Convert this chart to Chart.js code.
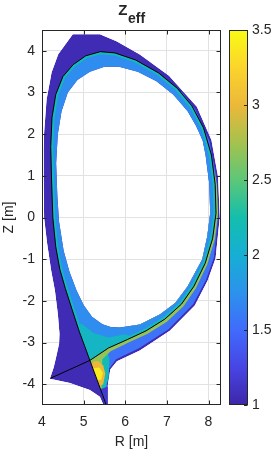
<!DOCTYPE html>
<html>
<head>
<meta charset="utf-8">
<script src="https://cdn.jsdelivr.net/npm/chart.js@4"></script>
<style>
html, body { margin: 0; padding: 0; background: #fff; }
</style>
</head>
<body>
<canvas id="Zeff" width="278" height="453"></canvas>
<script>
// tick labels
const xTicks = [4, 5, 6, 7, 8];
const yTicks = [-4, -3, -2, -1, 0, 1, 2, 3, 4];
const cbTicks = [1, 1.5, 2, 2.5, 3, 3.5];

// separatrix: inner leg end -> X point -> LFS -> top -> HFS -> X point -> outer leg end
const sepR = [4.20, 5.15, 5.60, 6.05, 6.50, 6.95, 7.35, 7.65, 7.92, 8.10, 8.18, 8.16, 8.07, 7.88, 7.60, 7.25, 6.80, 6.25, 5.75, 5.40, 5.05, 4.75, 4.50, 4.33, 4.24, 4.21, 4.23, 4.26, 4.33, 4.43, 4.56, 4.72, 4.90, 5.03, 5.15, 5.35, 5.58];
const sepZ = [-3.86, -3.43, -3.13, -2.93, -2.72, -2.44, -2.08, -1.65, -1.10, -0.50, 0.10, 0.80, 1.50, 2.15, 2.68, 3.10, 3.47, 3.78, 3.95, 3.98, 3.88, 3.67, 3.38, 2.95, 2.40, 1.70, 0.90, 0.00, -0.70, -1.25, -1.70, -2.20, -2.75, -3.10, -3.43, -3.97, -4.60];

// inner edge of the grid (core boundary, empty inside)
const holeR = [5.87, 6.35, 6.83, 7.20, 7.50, 7.85, 7.97, 8.04, 8.02, 7.93, 7.86, 7.70, 7.50, 7.15, 6.75, 6.30, 5.85, 5.50, 5.15, 4.85, 4.62, 4.47, 4.38, 4.34, 4.37, 4.41, 4.52, 4.66, 4.83, 5.00, 5.20, 5.45, 5.65];
const holeZ = [-2.64, -2.57, -2.33, -2.05, -1.65, -1.00, -0.45, 0.10, 0.80, 1.50, 1.85, 2.20, 2.55, 2.95, 3.27, 3.50, 3.62, 3.62, 3.50, 3.30, 3.00, 2.55, 2.00, 1.30, 0.50, -0.10, -0.80, -1.30, -1.75, -2.10, -2.38, -2.56, -2.63];

// outer edge of the grid (wall side, incl. divertor legs and private flux region)
const wallR = [4.74, 5.39, 5.79, 6.35, 7.05, 7.72, 8.07, 8.23, 8.27, 8.17, 7.98, 7.67, 7.07, 6.35, 5.80, 5.64, 5.58, 5.58, 5.50, 5.39, 5.15, 4.67, 4.19, 4.28, 4.34, 4.41, 4.42, 4.38, 4.31, 4.22, 4.12, 4.05, 4.04, 4.04, 4.05, 4.11, 4.23, 4.39];
const wallZ = [4.40, 4.40, 4.23, 3.91, 3.40, 2.66, 1.86, 0.97, 0.00, -0.98, -1.51, -2.11, -2.72, -3.19, -3.45, -3.65, -4.03, -4.55, -4.55, -4.30, -4.14, -3.97, -3.87, -3.60, -3.35, -3.03, -2.79, -2.31, -1.75, -1.27, -0.60, 0.00, 0.97, 1.62, 2.03, 2.83, 3.48, 3.92];

// Zeff zones in the SOL and divertor
const solBlueR = [7.35, 7.68, 8.02, 8.19, 8.23, 8.13, 7.94, 7.63, 7.04, 6.33, 5.78, 5.61, 5.56, 5.56, 5.35, 5.15, 5.90, 7.00, 7.80, 8.00, 7.80, 7.20];
const solBlueZ = [3.02, 2.60, 1.84, 0.97, 0.00, -0.96, -1.50, -2.08, -2.68, -3.14, -3.40, -3.63, -4.02, -4.60, -3.97, -3.43, -2.80, -2.20, -0.80, 0.50, 2.00, 3.00];
const legCyanR = [5.15, 5.55, 5.62, 5.60, 5.50, 5.44, 5.35];
const legCyanZ = [-3.43, -3.16, -3.40, -3.85, -4.15, -4.22, -3.97];
const nearSepR = [8.12, 8.20, 8.23, 8.15, 7.97, 7.70, 7.40, 7.00, 6.54, 6.08, 5.65, 5.45, 5.42, 5.44, 5.40, 5.35, 5.15, 5.70, 7.90, 8.05];
const nearSepZ = [1.20, 0.80, 0.10, -0.52, -1.13, -1.69, -2.13, -2.50, -2.79, -3.00, -3.21, -3.40, -3.90, -4.10, -4.10, -3.97, -3.43, -3.00, -0.80, 0.80];
const legOrangeR = [5.19, 5.38, 5.47, 5.52, 5.47, 5.35, 5.25];
const legOrangeZ = [-3.52, -4.05, -4.00, -3.75, -3.55, -3.45, -3.45];
const legYellowR = [5.22, 5.33, 5.43, 5.46, 5.38];
const legYellowZ = [-3.62, -3.92, -3.88, -3.72, -3.60];
const legTipR = [5.40, 5.60, 5.62, 5.58];
const legTipZ = [-4.12, -4.05, -4.60, -4.60];

// Zeff zone in the core near the X point
const xptCoreR = [5.15, 6.20, 6.00, 5.60, 5.25, 4.95, 4.80];
const xptCoreZ = [-3.43, -2.88, -2.80, -2.88, -2.78, -2.55, -2.60];

// Zeff of each zone
const wallZeff = 1.05;
const solBlueZeff = 1.55;
const legCyanZeff = 2.2;
const nearSepZeff = 2.7;
const legOrangeZeff = 3.0;
const legYellowZeff = 3.4;
const legTipZeff = 1.15;
const coreZeff = 1.72;
const xptCoreZeff = 2.1;
const sepCoreZeff = 2.15;

const cMin = 1, cMax = 3.5;
const parulaStops = [
  [0.00, 62, 38, 168],
  [0.10, 71, 69, 228],
  [0.20, 64, 107, 252],
  [0.30, 44, 146, 236],
  [0.40, 22, 175, 212],
  [0.50, 20, 190, 172],
  [0.60, 92, 199, 120],
  [0.70, 165, 194, 78],
  [0.80, 236, 184, 58],
  [0.90, 251, 212, 44],
  [1.00, 249, 251, 20]
];

function parula(v) {
  const t = Math.min(1, Math.max(0, (v - cMin) / (cMax - cMin)));
  for (let i = 1; i < parulaStops.length; i++) {
    const a = parulaStops[i - 1], b = parulaStops[i];
    if (t <= b[0]) {
      const f = (t - a[0]) / (b[0] - a[0]);
      return 'rgb(' + [1, 2, 3].map(k => Math.round(a[k] + f * (b[k] - a[k]))).join(',') + ')';
    }
  }
}

function pts(R, Z) {
  return R.map((r, i) => ({x: r, y: Z[i]}));
}

const zones = [
  ['wall', 'sol', wallR, wallZ, wallZeff],
  ['solBlue', 'sol', solBlueR, solBlueZ, solBlueZeff],
  ['legCyan', 'sol', legCyanR, legCyanZ, legCyanZeff],
  ['nearSep', 'sol', nearSepR, nearSepZ, nearSepZeff],
  ['legOrange', 'sol', legOrangeR, legOrangeZ, legOrangeZeff],
  ['legYellow', 'sol', legYellowR, legYellowZ, legYellowZeff],
  ['legTip', 'sol', legTipR, legTipZ, legTipZeff],
  ['xptCore', 'core', xptCoreR, xptCoreZ, xptCoreZeff],
  ['hole', 'hole', holeR, holeZ, null]
];

const datasets = zones.map(([name, role, R, Z, v]) => ({
  label: name, role: role, zeff: v, data: pts(R, Z),
  showLine: false, pointRadius: 0
}));
datasets.push({
  label: 'separatrix', role: 'sep', data: pts(sepR, sepZ),
  showLine: true, borderColor: '#000', borderWidth: 1, pointRadius: 0, tension: 0
});

const meshPlugin = {
  id: 'mesh',
  beforeDatasetsDraw(chart) {
    const {ctx, chartArea: a} = chart;
    const sets = chart.data.datasets;
    const trace = (i, from, to) => {
      chart.getDatasetMeta(i).data.slice(from, to).forEach((p, k) => k ? ctx.lineTo(p.x, p.y) : ctx.moveTo(p.x, p.y));
      ctx.closePath();
    };
    const fillZone = (i, v) => {
      ctx.beginPath();
      trace(i);
      ctx.fillStyle = parula(v);
      ctx.fill();
    };
    const idx = name => sets.findIndex(d => d.label === name);
    const sep = idx('separatrix');
    const nSep = sets[sep].data.length;

    ctx.save();
    ctx.beginPath();
    ctx.rect(a.left, a.top, a.right - a.left, a.bottom - a.top);
    trace(idx('hole'));
    ctx.clip('evenodd');

    ctx.save();
    ctx.beginPath();
    trace(idx('wall'));
    ctx.clip();
    sets.forEach((d, i) => { if (d.role === 'sol') fillZone(i, d.zeff); });
    ctx.restore();

    ctx.save();
    ctx.beginPath();
    trace(sep, 1, nSep - 1);
    ctx.clip();
    ctx.fillStyle = parula(coreZeff);
    ctx.fill();
    sets.forEach((d, i) => { if (d.role === 'core') fillZone(i, d.zeff); });
    ctx.beginPath();
    trace(sep, 1, nSep - 1);
    ctx.lineWidth = 5;
    ctx.lineJoin = 'round';
    ctx.strokeStyle = parula(sepCoreZeff);
    ctx.stroke();
    ctx.restore();

    ctx.restore();
  }
};

const axisColor = '#262626';
const fontFamily = "'Liberation Sans', Arial, sans-serif";

const framePlugin = {
  id: 'frame',
  afterDatasetsDraw(chart) {
    const {ctx, chartArea: a, scales} = chart;
    const L = Math.round(a.left) + 0.5, R = Math.round(a.right) - 0.5;
    const T = Math.round(a.top) + 0.5, B = Math.round(a.bottom) - 0.5;
    ctx.save();
    ctx.strokeStyle = axisColor;
    ctx.lineWidth = 1;
    ctx.strokeRect(L, T, R - L, B - T);
    ctx.beginPath();
    xTicks.forEach(v => {
      const px = Math.round(scales.x.getPixelForValue(v)) + 0.5;
      ctx.moveTo(px, B); ctx.lineTo(px, B - 4);
      ctx.moveTo(px, T); ctx.lineTo(px, T + 4);
    });
    yTicks.forEach(v => {
      const py = Math.round(scales.y.getPixelForValue(v)) + 0.5;
      ctx.moveTo(L, py); ctx.lineTo(L + 4, py);
      ctx.moveTo(R, py); ctx.lineTo(R - 4, py);
    });
    ctx.stroke();

    // colorbar
    const cb = scales.cb;
    const x0 = Math.round(a.right) + 8, x1 = x0 + 19;
    const yTop = cb.getPixelForValue(cMax), yBot = cb.getPixelForValue(cMin);
    const grad = ctx.createLinearGradient(0, yBot, 0, yTop);
    parulaStops.forEach(s => grad.addColorStop(s[0], 'rgb(' + s[1] + ',' + s[2] + ',' + s[3] + ')'));
    ctx.fillStyle = grad;
    ctx.fillRect(x0, yTop, x1 - x0, yBot - yTop);
    ctx.strokeStyle = axisColor;
    ctx.strokeRect(x0 + 0.5, Math.round(yTop) + 0.5, x1 - x0 - 1, Math.round(yBot - yTop) - 1);
    ctx.beginPath();
    cbTicks.forEach(v => {
      const py = Math.round(cb.getPixelForValue(v)) + 0.5;
      ctx.moveTo(x1 - 0.5, py); ctx.lineTo(x1 - 4, py);
    });
    ctx.stroke();

    // title Z_eff
    ctx.fillStyle = axisColor;
    ctx.textBaseline = 'alphabetic';
    ctx.textAlign = 'left';
    ctx.font = 'bold 15px ' + fontFamily;
    const wZ = ctx.measureText('Z').width;
    ctx.font = 'bold 14px ' + fontFamily;
    const wE = ctx.measureText('eff').width;
    const cx = (a.left + a.right) / 2;
    const sx = cx - (wZ + wE) / 2;
    ctx.font = 'bold 15px ' + fontFamily;
    ctx.fillText('Z', sx, 15);
    ctx.font = 'bold 14px ' + fontFamily;
    ctx.fillText('eff', sx + wZ + 0.5, 23);
    ctx.restore();
  }
};

const tickFont = {family: fontFamily, size: 14};

new Chart(document.getElementById('Zeff'), {
  type: 'scatter',
  data: {datasets: datasets},
  options: {
    responsive: false,
    animation: false,
    events: [],
    layout: {padding: {top: 30, left: 0, right: 0, bottom: 0}},
    plugins: {legend: {display: false}, tooltip: {enabled: false}},
    scales: {
      x: {
        type: 'linear', min: 4, max: 8.3,
        afterBuildTicks: s => { s.ticks = xTicks.map(v => ({value: v})); },
        afterFit: s => { s.height = 48; },
        grid: {color: '#e2e2e2', drawTicks: false},
        border: {display: false},
        ticks: {padding: 9, color: axisColor, font: tickFont},
        title: {display: true, text: 'R [m]', color: axisColor, font: tickFont, padding: {top: 0, bottom: 2}}
      },
      y: {
        type: 'linear', min: -4.5, max: 4.5,
        afterBuildTicks: s => { s.ticks = yTicks.map(v => ({value: v})); },
        afterFit: s => { s.width = 42; },
        grid: {color: '#e2e2e2', drawTicks: false},
        border: {display: false},
        ticks: {padding: 7, color: axisColor, font: tickFont},
        title: {display: true, text: 'Z [m]', color: axisColor, font: tickFont, padding: {top: 1, bottom: 0}}
      },
      cb: {
        type: 'linear', position: 'right', min: cMin, max: cMax,
        afterBuildTicks: s => { s.ticks = cbTicks.map(v => ({value: v})); },
        afterFit: s => { s.width = 57; },
        grid: {display: true, drawOnChartArea: false, drawTicks: true, tickLength: 31, color: 'rgba(0,0,0,0)'},
        border: {display: false},
        ticks: {padding: 0, color: axisColor, font: tickFont, callback: v => String(v)}
      }
    }
  },
  plugins: [meshPlugin, framePlugin]
});
</script>
</body>
</html>
